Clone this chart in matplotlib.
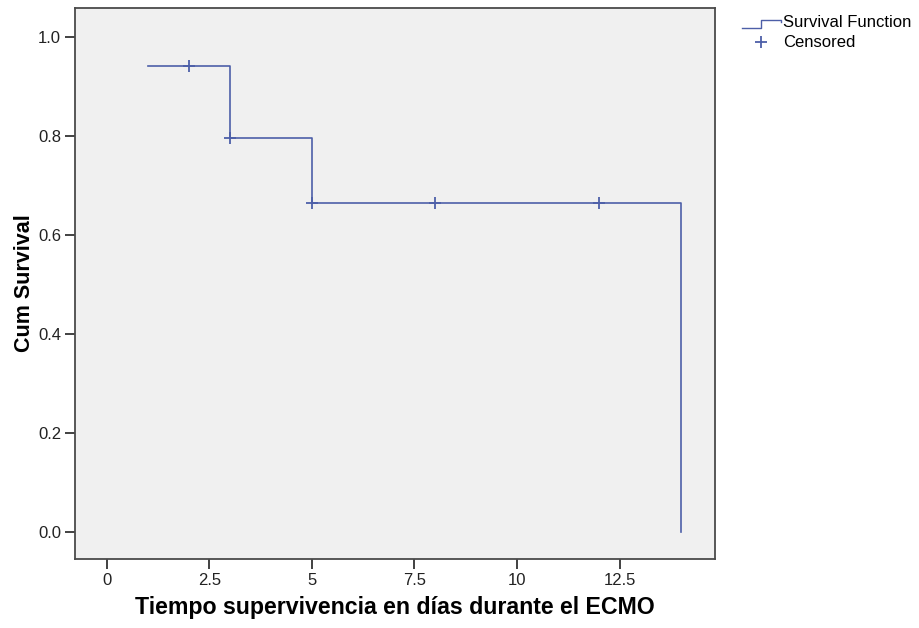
import numpy as np
import matplotlib.pyplot as plt
from matplotlib.legend_handler import HandlerBase
from matplotlib.lines import Line2D

plt.rcParams['font.family'] = ['Liberation Sans', 'DejaVu Sans']

# Curva de supervivencia (Kaplan-Meier)
tiempos = [1, 3, 5, 14]
supervivencia = [0.943, 0.797, 0.664, 0.0]
# Casos censurados
t_censura = [2, 3, 5, 8, 12]
s_censura = [0.943, 0.797, 0.664, 0.664, 0.664]

xticks = [0, 2.5, 5, 7.5, 10, 12.5]
xtick_labels = ["0", "2.5", "5", "7.5", "10", "12.5"]
yticks = [0.0, 0.2, 0.4, 0.6, 0.8, 1.0]

color = "#4d5fa8"


class HandlerEscalon(HandlerBase):
    # icono de escalon como en SPSS
    def create_artists(self, legend, orig_handle, xd, yd, width, height, fontsize, trans):
        xs = [xd, xd + width * 0.5, xd + width * 0.5, xd + width, xd + width]
        ys = [yd - height * 0.05, yd - height * 0.05, yd + height * 0.65,
              yd + height * 0.65, yd + height * 0.45]
        ln = Line2D(xs, ys, color=orig_handle.get_color(), lw=1.0)
        ln.set_transform(trans)
        return [ln]


fig = plt.figure(figsize=(9.2, 6.28), dpi=100)
ax = fig.add_axes([0.0815, 0.110, 0.6955, 0.877])
ax.set_facecolor("#f0f0f0")

# construir la escalera
xs = [tiempos[0]]
ys = [supervivencia[0]]
for i in range(1, len(tiempos)):
    xs += [tiempos[i], tiempos[i]]
    ys += [supervivencia[i - 1], supervivencia[i]]
linea, = ax.plot(xs, ys, color=color, lw=1.2)
cens, = ax.plot(t_censura, s_censura, linestyle="none", marker="+", markersize=8,
                markeredgewidth=1.3, color=color)

ax.set_xlim(-0.77, 14.82)
ax.set_ylim(-0.055, 1.059)
ax.set_xticks(xticks)
ax.set_xticklabels(xtick_labels)
ax.set_yticks(yticks)
ax.set_yticklabels([f"{v:.1f}" for v in yticks])
ax.tick_params(labelsize=12, length=7.5, color="#333333", width=1.3,
               labelcolor="#222222", pad=2.5)
for s in ax.spines.values():
    s.set_color("#4a4a4a")
    s.set_linewidth(1.3)

ax.set_xlabel("Tiempo supervivencia en días durante el ECMO", fontsize=16.7,
              fontweight="bold", labelpad=6)
ax.set_ylabel("Cum Survival", fontsize=15.5, fontweight="bold", labelpad=2)

fig.legend([linea, cens], ["Survival Function", "Censored"],
           handler_map={linea: HandlerEscalon()},
           loc="upper left", bbox_to_anchor=(734 / 920, 1 - 7 / 628), frameon=False,
           borderpad=0, fontsize=12, handlelength=2.3, handletextpad=0.15,
           labelspacing=0.3)

fig.savefig("out.png", dpi=100)
